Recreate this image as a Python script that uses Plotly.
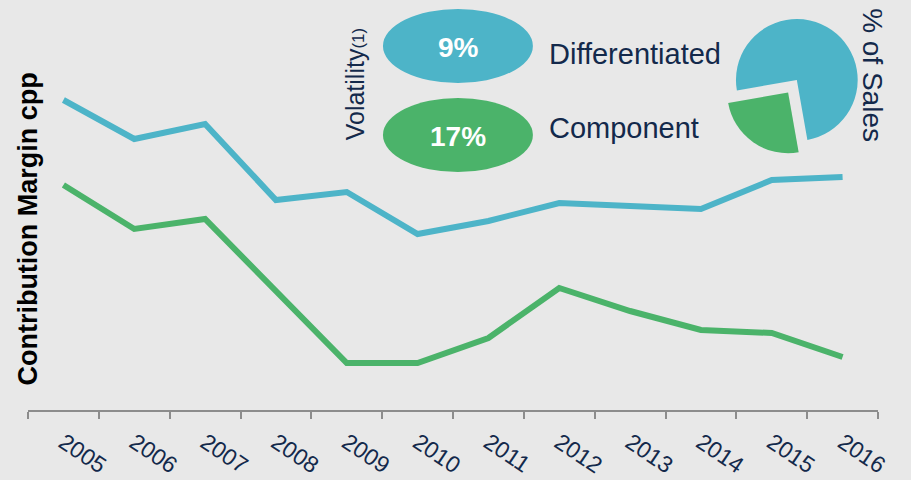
import plotly.graph_objects as go

years = ["2005", "2006", "2007", "2008", "2009", "2010",
         "2011", "2012", "2013", "2014", "2015", "2016"]
differentiated = [31.0, 27.1, 28.6, 21.0, 21.8, 17.6, 18.9, 20.7, 20.4, 20.1, 23.0, 23.3]
component = [22.5, 18.1, 19.1, 11.9, 4.7, 4.7, 7.2, 12.2, 9.9, 8.0, 7.7, 5.3]

share_labels = ["Component", "Differentiated"]
share_values = [25, 75]
volatility = {"Differentiated": "9%", "Component": "17%"}

BLUE = "#4DB4C8"
GREEN = "#4BB36A"
NAVY = "#13294B"
BG = "#E8E8E8"
FONT = "Liberation Sans, Arial, sans-serif"

fig = go.Figure()

fig.add_trace(go.Scatter(x=years, y=differentiated, mode="lines",
                         line=dict(color=BLUE, width=6), hoverinfo="skip"))
fig.add_trace(go.Scatter(x=years, y=component, mode="lines",
                         line=dict(color=GREEN, width=6), hoverinfo="skip"))

# petit camembert % des ventes
fig.add_trace(go.Pie(
    labels=share_labels, values=share_values,
    marker=dict(colors=[GREEN, BLUE], line=dict(width=0)),
    pull=[0.25, 0], sort=False, direction="clockwise", rotation=170,
    textinfo="none", hoverinfo="skip",
    domain=dict(x=[0.815, 0.994], y=[0.619, 0.991]),
))

# ellipses de volatilité
fig.add_shape(type="circle", xref="paper", yref="paper",
              x0=0.4176, x1=0.594, y0=0.7976, y1=0.978,
              fillcolor=BLUE, line=dict(width=0))
fig.add_shape(type="circle", xref="paper", yref="paper",
              x0=0.4176, x1=0.594, y0=0.5805, y1=0.761,
              fillcolor=GREEN, line=dict(width=0))

ann = [
    dict(text="<b>Contribution Margin cpp</b>", x=0.0, y=0.44, textangle=-90,
         font=dict(size=27, color="#000000")),
    dict(text="Volatility<span style='font-size:17px'>(1)</span>", x=0.385, y=0.795,
         textangle=-90, font=dict(size=25, color=NAVY)),
    dict(text="<b>" + volatility["Differentiated"] + "</b>", x=0.506, y=0.885,
         font=dict(size=28, color="white")),
    dict(text="<b>" + volatility["Component"] + "</b>", x=0.506, y=0.668,
         font=dict(size=28, color="white")),
    dict(text="Differentiated", x=0.6106, y=0.868, xanchor="left",
         font=dict(size=29, color=NAVY)),
    dict(text="Component", x=0.6106, y=0.688, xanchor="left",
         font=dict(size=29, color=NAVY)),
    dict(text="% of Sales", x=0.994, y=0.817, textangle=90,
         font=dict(size=28, color=NAVY)),
]
for a in ann:
    a.setdefault("xanchor", "center")
    fig.add_annotation(xref="paper", yref="paper", yanchor="middle",
                       showarrow=False, **a)

fig.update_layout(
    width=911, height=480,
    margin=dict(l=28, r=33, t=0, b=70),
    paper_bgcolor=BG, plot_bgcolor=BG,
    showlegend=False,
    font=dict(family=FONT, color=NAVY),
    xaxis=dict(type="category", range=[-0.5, 11.5], tickson="boundaries",
               automargin=False,
               showgrid=False, zeroline=False, showline=True,
               linecolor="#8C8C8C", linewidth=2,
               ticks="outside", ticklen=7, tickwidth=2, tickcolor="#8C8C8C",
               tickangle=34, ticklabelstandoff=8,
               tickfont=dict(size=23, color=NAVY)),
    yaxis=dict(range=[0, 41], showgrid=False, zeroline=False, automargin=False,
               showline=False, showticklabels=False, ticks=""),
)

# la page a une marge par défaut de 8px
fig.write_html("out.html", config={"displayModeBar": False},
               post_script="document.body.style.margin='0';")
